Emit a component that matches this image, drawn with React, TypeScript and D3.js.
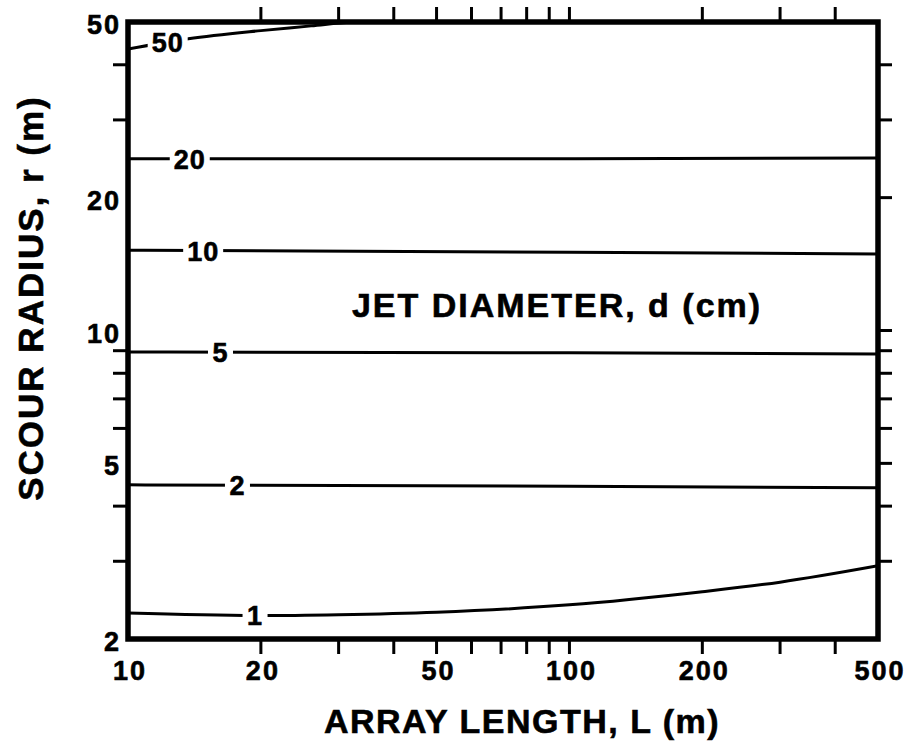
import React from "react";
import * as d3 from "d3";

const W = 914;
const H = 747;
const FONT = "'Liberation Sans', Arial, Helvetica, sans-serif";

// Curves: jet diameter d (cm) -> scour radius r (m) vs array length L (m)
const d1L = [10, 20, 30, 50, 100, 200, 300, 500];
const d1R = [2.29, 2.26, 2.27, 2.3, 2.39, 2.56, 2.69, 2.93];
const d2L = [10, 100, 500];
const d2R = [4.47, 4.44, 4.4];
const d5L = [10, 100, 500];
const d5R = [8.94, 8.9, 8.85];
const d10L = [10, 100, 500];
const d10R = [15.2, 15.05, 14.9];
const d20L = [10, 100, 500];
const d20R = [24.5, 24.5, 24.6];
const d50L = [10, 13.7, 20, 26, 32, 40];
const d50R = [43.4, 45.8, 47.8, 49.0, 50.0, 50.5];

const seriesNames = ["1", "2", "5", "10", "20", "50"];
const seriesL = [d1L, d2L, d5L, d10L, d20L, d50L];
const seriesR = [d1R, d2R, d5R, d10R, d20R, d50R];
const labelL = [19.4, 17.7, 16.2, 14.8, 13.8, 12.3];

const xTickLabels = [10, 20, 50, 100, 200, 500];
const xMinorTicks = [20, 30, 40, 50, 60, 70, 80, 90, 100, 200, 300, 400];
const yTickLabels = [2, 5, 10, 20, 50];
const yLeftTicks = [3, 4, 6, 7, 8, 9, 30, 40];
const yRightTicks = [3, 4, 5, 6, 7, 8, 9, 10, 20, 30, 40];

const left = 128;
const right = 878;
const top = 22;
const bottom = 639;

export default function App() {
  const x = d3.scaleLog().domain([10, 500]).range([left, right]);
  const y = d3.scaleLog().domain([2, 50]).range([bottom, top]);

  const line = d3
    .line<[number, number]>()
    .x((d) => x(d[0]))
    .y((d) => y(d[1]))
    .curve(d3.curveMonotoneX);

  const interp = (Ls: number[], Rs: number[], L: number) => {
    for (let i = 0; i < Ls.length - 1; i++) {
      if (L >= Ls[i] && L <= Ls[i + 1]) {
        const t = (Math.log(L) - Math.log(Ls[i])) / (Math.log(Ls[i + 1]) - Math.log(Ls[i]));
        return Math.exp(Math.log(Rs[i]) + t * (Math.log(Rs[i + 1]) - Math.log(Rs[i])));
      }
    }
    return Rs[0];
  };

  const heavy = { stroke: "#000", strokeWidth: 0.6 };

  return (
    <svg
      width={W}
      height={H}
      style={{ position: "absolute", left: 0, top: 0, background: "#fff" }}
      fontFamily={FONT}
      fontWeight="bold"
    >
      <defs>
        <clipPath id="plot">
          <rect x={left} y={top} width={right - left} height={bottom - top} />
        </clipPath>
      </defs>
      <rect x={0} y={0} width={W} height={H} fill="#fff" />

      {/* curves */}
      <g clipPath="url(#plot)">
        {seriesNames.map((n, i) => (
          <path
            key={n}
            d={line(seriesL[i].map((L, j) => [L, seriesR[i][j]] as [number, number])) || ""}
            fill="none"
            stroke="#000"
            strokeWidth={3}
          />
        ))}
      </g>

      {/* curve labels */}
      {seriesNames.map((n, i) => {
        const L = labelL[i];
        const cx = x(L);
        const cy = y(interp(seriesL[i], seriesR[i], L));
        const w = n.length * 15 + 10;
        return (
          <g key={"lab" + n}>
            <rect x={cx - w / 2} y={cy - 12} width={w} height={24} fill="#fff" />
            <text
              x={cx}
              y={cy + 10}
              textAnchor="middle"
              fontSize={27}
              letterSpacing={1}
              fill="#000"
              {...heavy}
            >
              {n}
            </text>
          </g>
        );
      })}

      {/* ticks */}
      {xMinorTicks.map((t) => (
        <g key={"xt" + t} stroke="#000" strokeWidth={3}>
          <line x1={x(t)} x2={x(t)} y1={bottom} y2={bottom + 15} />
          <line x1={x(t)} x2={x(t)} y1={top} y2={top - 15} />
        </g>
      ))}
      {yLeftTicks.map((t) => (
        <line key={"yl" + t} x1={left} x2={left - 15} y1={y(t)} y2={y(t)} stroke="#000" strokeWidth={3} />
      ))}
      {yRightTicks.map((t) => (
        <line key={"yr" + t} x1={right} x2={right + 14} y1={y(t)} y2={y(t)} stroke="#000" strokeWidth={3} />
      ))}

      {/* frame */}
      <rect
        x={left}
        y={top}
        width={right - left}
        height={bottom - top}
        fill="none"
        stroke="#000"
        strokeWidth={5.5}
      />

      {/* tick labels */}
      {xTickLabels.map((t) => (
        <text key={"xl" + t} x={x(t) + 2} y={680} textAnchor="middle" fontSize={27} letterSpacing={2} fill="#000" {...heavy}>
          {t}
        </text>
      ))}
      {yTickLabels.map((t) => (
        <text key={"yl" + t} x={121} y={y(t) + 12} textAnchor="end" fontSize={27} letterSpacing={2} fill="#000" {...heavy}>
          {t}
        </text>
      ))}

      {/* annotation */}
      <text x={557} y={317} textAnchor="middle" fontSize={34} letterSpacing={2} fill="#000" {...heavy}>
        JET DIAMETER, d (cm)
      </text>

      {/* axis titles */}
      <text x={522} y={733} textAnchor="middle" fontSize={34} letterSpacing={1.5} fill="#000" {...heavy}>
        ARRAY LENGTH, L (m)
      </text>
      <text
        transform="translate(43,298) rotate(-90)"
        textAnchor="middle"
        fontSize={35}
        letterSpacing={2}
        fill="#000"
        {...heavy}
      >
        SCOUR RADIUS, r (m)
      </text>
    </svg>
  );
}
